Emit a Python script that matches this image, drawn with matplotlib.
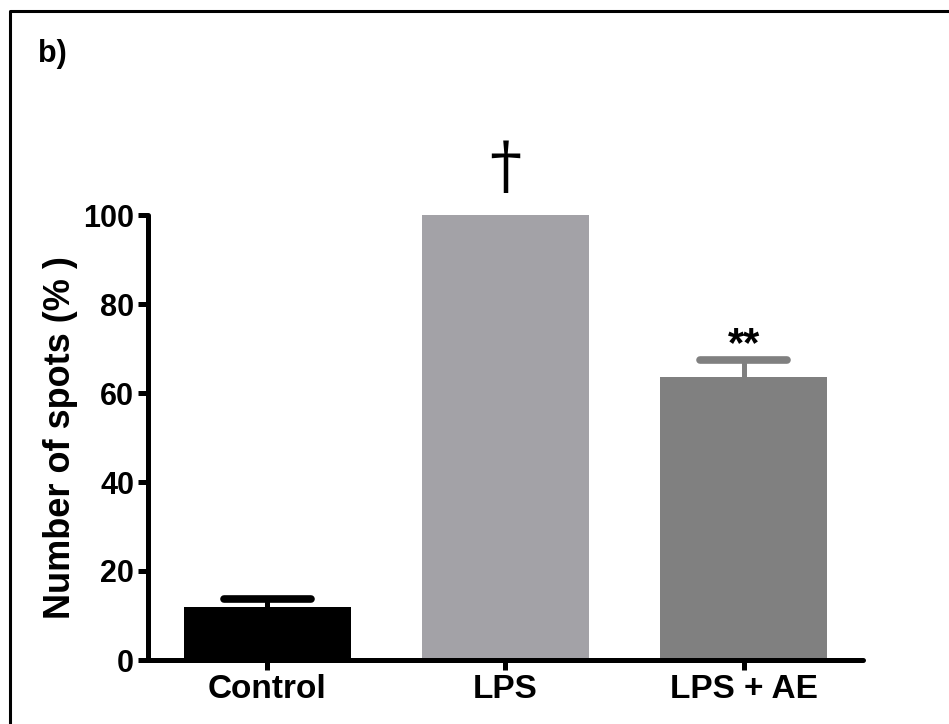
import matplotlib
matplotlib.use("Agg")
import matplotlib.pyplot as plt
from matplotlib.lines import Line2D

# Data
categories = ["Control", "LPS", "LPS + AE"]
means = [12.0, 100.0, 63.5]
sem = [1.6, 0.0, 4.0]
bar_colors = ["#000000", "#a3a2a7", "#808080"]
markers = ["", "\u2020", "**"]
yticks = [0, 20, 40, 60, 80, 100]

plt.rcParams["font.family"] = ["Liberation Sans", "DejaVu Sans"]
plt.rcParams["font.weight"] = "bold"

W, H = 949, 724
fig = plt.figure(figsize=(W / 100, H / 100), dpi=100)
ax = fig.add_axes([148 / W, 1 - 660 / H, (863 - 148) / W, (660 - 215) / H])

x = list(range(len(categories)))
ax.bar(x, means, width=0.70, color=bar_colors, zorder=2)

# Upper-only error bars with rounded caps
cap_half = 0.183
for xi, m, e, c in zip(x, means, sem, bar_colors):
    if e > 0:
        ax.plot([xi, xi], [m, m + e], color=c, lw=3.6, solid_capstyle="butt", zorder=1, clip_on=False)
        ax.plot([xi - cap_half, xi + cap_half], [m + e, m + e], color=c, lw=5.5,
                solid_capstyle="round", zorder=1, clip_on=False)

# Significance markers
ax.text(1, means[1] + sem[1] + 3.3, markers[1], ha="center", va="bottom",
        fontsize=46, fontweight="normal", family=["DejaVu Serif"], clip_on=False)
ax.text(2, means[2] + sem[2] + 3.3, markers[2], ha="center", va="center",
        fontsize=30, fontweight="bold", clip_on=False)

ax.set_xlim(-0.5, 2.5)
ax.set_ylim(0, 100)
ax.set_yticks(yticks)
ax.set_xticks(x)
ax.set_xticklabels(categories)

for s in ["top", "right"]:
    ax.spines[s].set_visible(False)
for s in ["left", "bottom"]:
    ax.spines[s].set_linewidth(3.6)
    ax.spines[s].set_capstyle("round")
ax.tick_params(axis="both", width=3.6, length=7, pad=3)
ax.set_ylabel("Number of spots (% )", fontsize=26, fontweight="bold", labelpad=4)

for lab in ax.get_xticklabels():
    lab.set_fontweight("bold")
    lab.set_fontsize(24)
for lab in ax.get_yticklabels():
    lab.set_fontweight("bold")
    lab.set_fontsize(22)

# Panel label and frame
fig.text(38 / W, 1 - 54 / H, "b)", fontsize=22, fontweight="bold",
         va="center", ha="left")
frame = Line2D([10 / W, 10 / W, 1.01], [-0.01, 1 - 11 / H, 1 - 11 / H],
               transform=fig.transFigure, color="black", lw=2.2)
fig.add_artist(frame)

fig.savefig("out.png", dpi=100)
